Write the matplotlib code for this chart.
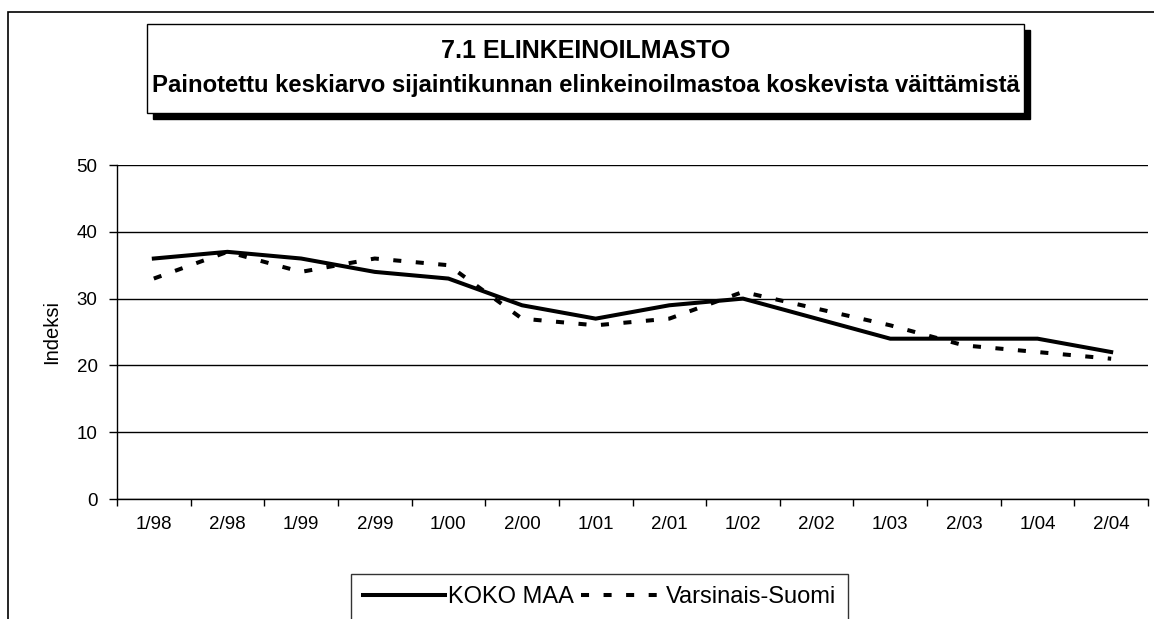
import matplotlib.pyplot as plt
from matplotlib.patches import Rectangle

plt.rcParams['font.family'] = ['Liberation Sans', 'DejaVu Sans']

periods = ['1/98', '2/98', '1/99', '2/99', '1/00', '2/00', '1/01',
           '2/01', '1/02', '2/02', '1/03', '2/03', '1/04', '2/04']
koko_maa = [36, 37, 36, 34, 33, 29, 27, 29, 30, 27, 24, 24, 24, 22]
varsinais_suomi = [33, 37, 34, 36, 35, 27, 26, 27, 31, 28.5, 26, 23, 22, 21]

W, H = 1154, 619
fig = plt.figure(figsize=(W / 100, H / 100), dpi=100)

# outer chart border (runs off the right and bottom of the picture)
fig.patches.append(Rectangle((8 / W, -0.1), 1.2, 1 - 12 / H + 0.1,
                             transform=fig.transFigure, fill=False,
                             edgecolor='black', linewidth=1.2))

# title box with shadow
bx0, bx1, by0, by1 = 147, 1024, 24, 113
fig.patches.append(Rectangle(((bx0 + 6) / W, 1 - (by1 + 6) / H), (bx1 - bx0) / W,
                             (by1 - by0) / H, transform=fig.transFigure,
                             facecolor='black', edgecolor='black'))
fig.patches.append(Rectangle((bx0 / W, 1 - by1 / H), (bx1 - bx0) / W,
                             (by1 - by0) / H, transform=fig.transFigure,
                             facecolor='white', edgecolor='black', linewidth=1))
cx = (bx0 + bx1) / 2 / W
fig.text(cx, 1 - 58 / H, '7.1 ELINKEINOILMASTO', ha='center', va='baseline',
         fontsize=18, fontweight='bold')
fig.text(cx, 1 - 92 / H,
         'Painotettu keskiarvo sijaintikunnan elinkeinoilmastoa koskevista väittämistä',
         ha='center', va='baseline', fontsize=17.2, fontweight='bold')

ax = fig.add_axes([117 / W, 1 - 499 / H, (1148 - 117) / W, (499 - 165) / H])
x = list(range(len(periods)))
ax.plot(x, koko_maa, color='black', linewidth=2.9, label='KOKO MAA',
        solid_joinstyle='miter')
ax.plot(x, varsinais_suomi, color='black', linewidth=2.9,
        linestyle=(0, (2, 3.6)), dash_capstyle='butt', label='Varsinais-Suomi')

ax.set_xlim(-0.5, len(periods) - 0.5)
ax.set_ylim(0, 50)
ax.set_yticks(range(0, 51, 10))
ax.yaxis.grid(True, color='black', linewidth=1)
ax.set_axisbelow(True)

ax.set_xticks([i - 0.5 for i in range(len(periods) + 1)])
ax.set_xticklabels([])
ax.set_xticks(x, minor=True)
ax.set_xticklabels(periods, minor=True)
ax.tick_params(axis='x', which='major', length=5, width=1, direction='out')
ax.tick_params(axis='x', which='minor', length=0, pad=12, labelsize=13.5)
ax.tick_params(axis='y', length=6, width=1, direction='out', pad=8, labelsize=13.5)

for side in ['top', 'right']:
    ax.spines[side].set_visible(False)
for side in ['left', 'bottom']:
    ax.spines[side].set_linewidth(1)

ax.set_ylabel('Indeksi', fontsize=14.5)
ax.yaxis.set_label_coords((61 - 117) / (1148 - 117), 0.5)

leg = fig.legend(loc='upper left', bbox_to_anchor=(351 / W, 1 - 574 / H),
                 ncol=2, frameon=True, fancybox=False, fontsize=17,
                 handlelength=3.5, handletextpad=0.1, columnspacing=0.3,
                 borderpad=0.5, borderaxespad=0)
leg.get_frame().set_edgecolor('black')
leg.get_frame().set_linewidth(1)

fig.savefig('out.png', dpi=100)
